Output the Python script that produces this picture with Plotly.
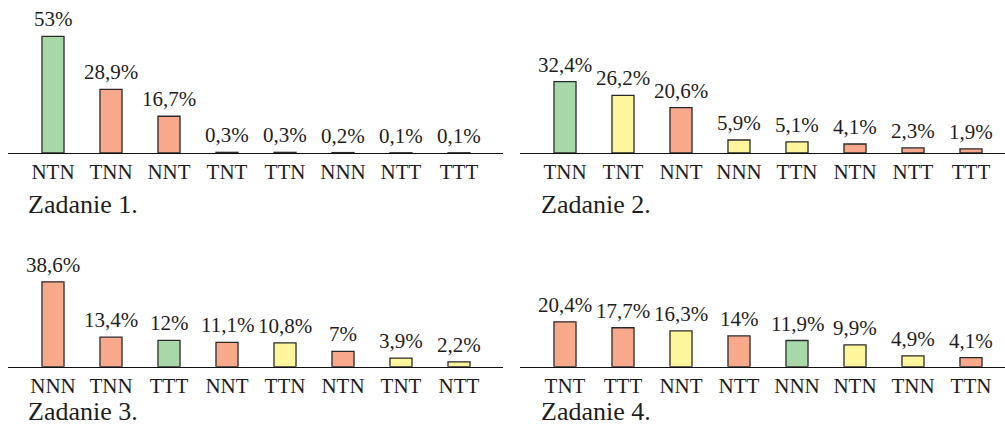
import plotly.graph_objects as go

# ---- data ----
titles = ["Zadanie 1.", "Zadanie 2.", "Zadanie 3.", "Zadanie 4."]

cats1 = ["NTN", "TNN", "NNT", "TNT", "TTN", "NNN", "NTT", "TTT"]
vals1 = [53, 28.9, 16.7, 0.3, 0.3, 0.2, 0.1, 0.1]
kinds1 = ["g", "r", "r", "r", "r", "y", "r", "r"]

cats2 = ["TNN", "TNT", "NNT", "NNN", "TTN", "NTN", "NTT", "TTT"]
vals2 = [32.4, 26.2, 20.6, 5.9, 5.1, 4.1, 2.3, 1.9]
kinds2 = ["g", "y", "r", "y", "y", "r", "r", "r"]

cats3 = ["NNN", "TNN", "TTT", "NNT", "TTN", "NTN", "TNT", "NTT"]
vals3 = [38.6, 13.4, 12, 11.1, 10.8, 7, 3.9, 2.2]
kinds3 = ["r", "r", "g", "r", "y", "r", "y", "y"]

cats4 = ["TNT", "TTT", "NNT", "NTT", "NNN", "NTN", "TNN", "TTN"]
vals4 = [20.4, 17.7, 16.3, 14, 11.9, 9.9, 4.9, 4.1]
kinds4 = ["r", "r", "y", "r", "g", "y", "y", "r"]

palette = {"g": "#a8d8aa", "r": "#f9a98b", "y": "#fff59d"}

W, H = 1005, 426
FONT = "Liberation Serif"
TXT = "#1e1e1e"

def fmt(v):
    s = ("%g" % v).replace(".", ",")
    return s + "%"

panels = [
    (cats1, vals1, kinds1),
    (cats2, vals2, kinds2),
    (cats3, vals3, kinds3),
    (cats4, vals4, kinds4),
]

# layout geometry in pixels
left_dom = [8 / W, 503 / W]
right_dom = [520 / W, 1.0]
top_dom = [(H - 153) / H, (H - 20) / H]
bot_dom = [(H - 366.7) / H, (H - 240) / H]
px_per_unit = 2.2
step = 58.0

fig = go.Figure()
annotations = []

for i, (cats, vals, kinds) in enumerate(panels):
    n = i + 1
    xa = "x" if n == 1 else f"x{n}"
    ya = "y" if n == 1 else f"y{n}"
    fig.add_trace(go.Bar(
        x=cats, y=vals,
        marker=dict(color=[palette[k] for k in kinds],
                    line=dict(color="#2a2a2a", width=1.3)),
        width=0.38,
        xaxis=xa, yaxis=ya,
        showlegend=False,
        hoverinfo="skip",
    ))
    for c, v in zip(cats, vals):
        annotations.append(dict(
            x=c, y=v, xref=xa, yref=ya, text=fmt(v),
            showarrow=False, yanchor="bottom", yshift=3,
            font=dict(family=FONT, size=21, color=TXT),
        ))

    xdom = left_dom if n in (1, 3) else right_dom
    ydom = top_dom if n in (1, 2) else bot_dom
    dom_px_w = (xdom[1] - xdom[0]) * W
    first_px = 53 if n in (1, 3) else 565
    x0 = (xdom[0] * W - first_px) / step
    x1 = x0 + dom_px_w / step
    dom_px_h = (ydom[1] - ydom[0]) * H
    xkey = "xaxis" if n == 1 else f"xaxis{n}"
    ykey = "yaxis" if n == 1 else f"yaxis{n}"
    fig.layout[xkey] = dict(
        domain=xdom, anchor=ya, range=[x0, x1],
        showline=True, linecolor="#111111", linewidth=1.3,
        showgrid=False, zeroline=False, ticks="",
        tickfont=dict(family=FONT, size=21, color=TXT),
        ticklabelstandoff=0,
        fixedrange=True,
    )
    fig.layout[ykey] = dict(
        domain=ydom, anchor=xa, range=[0, dom_px_h / px_per_unit],
        visible=False, fixedrange=True,
    )

title_pos = [(27, 205), (540, 204), (27, 411), (540, 411)]
for t, (px, py) in zip(titles, title_pos):
    annotations.append(dict(
        x=px / W, y=(H - py) / H, xref="paper", yref="paper",
        text=t, showarrow=False, xanchor="left", yanchor="middle",
        borderpad=0,
        font=dict(family=FONT, size=26, color=TXT),
    ))

fig.update_layout(
    width=W, height=H,
    margin=dict(l=0, r=0, t=0, b=0),
    paper_bgcolor="white", plot_bgcolor="white",
    annotations=annotations,
    bargap=0.6,
)

fig.write_html("out.html", config={"displayModeBar": False},
               post_script="document.body.style.margin='0';document.body.style.padding='0';")
